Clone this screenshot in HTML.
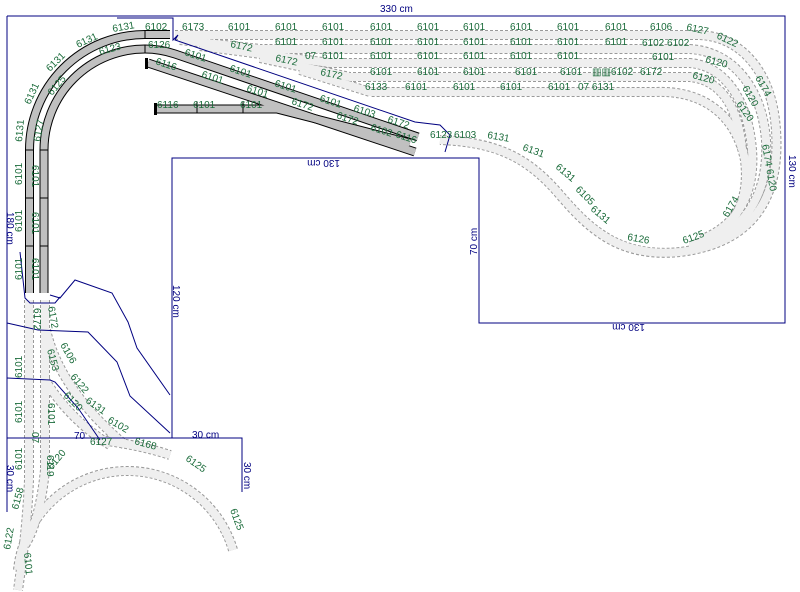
<!DOCTYPE html>
<html><head><meta charset="utf-8"><style>
html,body{margin:0;padding:0;background:#fff;}
svg{display:block;}
text{font-family:"Liberation Sans",sans-serif;font-size:10px;fill:#1a6b3a;}
.dim{fill:#000080;}
.b{fill:none;stroke:#000080;stroke-width:1;}
.te{fill:none;stroke:#9a9a9a;stroke-width:10;stroke-dasharray:3 2;}
.tf{fill:none;stroke:#efefef;stroke-width:8;}
.ge{fill:none;stroke:#000;stroke-width:9;}
.gf{fill:none;stroke:#c0c0c0;stroke-width:7;}
</style></head><body>
<svg width="800" height="592" viewBox="0 0 800 592" xmlns="http://www.w3.org/2000/svg">
<rect width="800" height="592" fill="#fff"/>
<!-- light tracks -->
<g id="light">
<path class="te" d="M175,35 H700 C740,37 772,70 776,130 C780,190 760,242 680,252 C620,258 590,230 560,195 C530,160 500,142 440,140"/>
<path class="te" d="M180,40 L260,49 H690 C735,52 762,90 766,140 C769,190 748,236 690,246"/>
<path class="te" d="M200,46 L330,63 H690 C725,66 748,100 752,150 C755,190 740,225 700,240"/>
<path class="te" d="M260,58 L350,77 H690 C720,80 738,105 742,150"/>
<path class="te" d="M300,70 L370,92 H655 C700,90 735,112 745,160 C750,200 735,235 690,246"/>
<path class="te" d="M29,300 V480 Q27,530 18,590"/>
<path class="te" d="M45,300 V470 Q40,520 25,545"/>
<path class="te" d="M46,330 Q60,390 125,445"/>
<path class="te" d="M45,380 Q70,420 110,445"/>
<path class="te" d="M100,440 Q140,445 170,455"/>
<path class="te" d="M18,570 A110,110 0 0 1 233,550"/>
<path class="tf" d="M175,35 H700 C740,37 772,70 776,130 C780,190 760,242 680,252 C620,258 590,230 560,195 C530,160 500,142 440,140"/>
<path class="tf" d="M180,40 L260,49 H690 C735,52 762,90 766,140 C769,190 748,236 690,246"/>
<path class="tf" d="M200,46 L330,63 H690 C725,66 748,100 752,150 C755,190 740,225 700,240"/>
<path class="tf" d="M260,58 L350,77 H690 C720,80 738,105 742,150"/>
<path class="tf" d="M300,70 L370,92 H655 C700,90 735,112 745,160 C750,200 735,235 690,246"/>
<path class="tf" d="M29,300 V480 Q27,530 18,590"/>
<path class="tf" d="M45,300 V470 Q40,520 25,545"/>
<path class="tf" d="M46,330 Q60,390 125,445"/>
<path class="tf" d="M45,380 Q70,420 110,445"/>
<path class="tf" d="M100,440 Q140,445 170,455"/>
<path class="tf" d="M18,570 A110,110 0 0 1 233,550"/>
</g>
<!-- solid gray tracks -->
<path class="ge" d="M29.5,293 V150 A115.5,115.5 0 0 1 145,34.5 H170"/>
<path class="ge" d="M44,293 V150 A101,101 0 0 1 145,49 Q160,49 175,54 L418,137"/>
<path class="ge" d="M148,63 L415,152"/>
<path class="ge" d="M157,109 H277 L410,143"/>
<path class="gf" d="M29.5,293 V150 A115.5,115.5 0 0 1 145,34.5 H170"/>
<path class="gf" d="M44,293 V150 A101,101 0 0 1 145,49 Q160,49 175,54 L418,137"/>
<path class="gf" d="M148,63 L415,152"/>
<path class="gf" d="M157,109 H277 L410,143"/>
<rect x="154" y="103" width="3" height="12" fill="#000"/>
<rect x="145" y="58" width="3" height="11" fill="#000"/>
<g stroke="#000" stroke-width="1">
<line x1="26" y1="198" x2="33" y2="198"/><line x1="26" y1="246" x2="33" y2="246"/><line x1="26" y1="150" x2="33" y2="150"/>
<line x1="40" y1="198" x2="48" y2="198"/><line x1="40" y1="246" x2="48" y2="246"/><line x1="40" y1="150" x2="48" y2="150"/>
<line x1="145" y1="31" x2="145" y2="38"/><line x1="145" y1="45" x2="145" y2="53"/>
<line x1="197" y1="102" x2="197" y2="113"/><line x1="243" y1="102" x2="243" y2="113"/>
</g>
<!-- blue outlines -->
<g class="b">
<polyline points="7,16 785,16 785,323 479,323 479,158 172,158 172,438 242,438 242,492"/>
<polyline points="7,16 7,512"/>
<polyline points="7,438 172,438"/>
<polyline points="117,18 173,18 173,40 178,35 175,40 415,122 440,125 450,135 445,152"/>
<polyline points="50,295 60,298 75,280 112,293 128,322 137,348 170,395"/>
<polyline points="7,323 38,330 88,332 117,362 130,396 170,433"/>
<polyline points="7,378 50,380 55,382 78,408 100,440"/>
<polyline points="20,252 25,298 30,303 55,303 60,297"/>
</g>
<!-- dimensions -->
<text class="dim" x="380" y="12">330 cm</text>
<text class="dim" transform="translate(789,155) rotate(90)">130 cm</text>
<text class="dim" transform="translate(340,160) rotate(180)">130 cm</text>
<text class="dim" transform="translate(645,324) rotate(180)">130 cm</text>
<text class="dim" transform="translate(477,255) rotate(-90)">70 cm</text>
<text class="dim" transform="translate(173,285) rotate(90)">120 cm</text>
<text class="dim" transform="translate(7,212) rotate(90)">180 cm</text>
<text class="dim" transform="translate(7,465) rotate(90)">30 cm</text>
<text class="dim" transform="translate(244,462) rotate(90)">30 cm</text>
<text class="dim" x="192" y="438">30 cm</text>
<text class="dim" x="74" y="439">70</text>
<!-- labels top rows -->
<g>
<text x="182" y="30">6173</text>
<text x="228" y="30">6101</text><text x="275" y="30">6101</text><text x="322" y="30">6101</text><text x="370" y="30">6101</text><text x="417" y="30">6101</text><text x="463" y="30">6101</text><text x="510" y="30">6101</text><text x="557" y="30">6101</text><text x="605" y="30">6101</text><text x="650" y="30">6106</text>
<text x="686" y="30" transform="rotate(12 686 30)">6127</text><text x="716" y="38" transform="rotate(25 716 38)">6122</text>
<text x="230" y="47" transform="rotate(12 230 47)">6172</text>
<text x="275" y="45">6101</text><text x="322" y="45">6101</text><text x="370" y="45">6101</text><text x="417" y="45">6101</text><text x="463" y="45">6101</text><text x="510" y="45">6101</text><text x="557" y="45">6101</text><text x="605" y="45">6101</text><text x="642" y="46">6102 6102</text>
<text x="275" y="61" transform="rotate(12 275 61)">6172</text><text x="305" y="59">07</text>
<text x="322" y="59">6101</text><text x="370" y="59">6101</text><text x="417" y="59">6101</text><text x="463" y="59">6101</text><text x="510" y="59">6101</text><text x="557" y="59">6101</text><text x="652" y="60">6101</text>
<text x="705" y="62" transform="rotate(15 705 62)">6120</text>
<text x="320" y="75" transform="rotate(12 320 75)">6172</text>
<text x="370" y="75">6101</text><text x="417" y="75">6101</text><text x="463" y="75">6101</text><text x="515" y="75">6101</text><text x="560" y="75">6101</text>
<text x="592" y="75">▥▥6102</text><text x="640" y="75">6172</text>
<text x="692" y="78" transform="rotate(15 692 78)">6120</text>
<text x="365" y="90">6133</text>
<text x="405" y="90">6101</text><text x="453" y="90">6101</text><text x="500" y="90">6101</text><text x="548" y="90">6101</text><text x="578" y="90">07 6131</text>
<text x="755" y="78" transform="rotate(60 755 78)">6174</text>
<text x="742" y="88" transform="rotate(60 742 88)">6120</text>
<text x="736" y="104" transform="rotate(55 736 104)">6120</text>
<text x="762" y="145" transform="rotate(80 762 145)">6174 6120</text>
<text x="728" y="218" transform="rotate(-60 728 218)">6174</text>
<text x="684" y="244" transform="rotate(-20 684 244)">6125</text>
<text x="627" y="240" transform="rotate(10 627 240)">6126</text>
<text x="590" y="210" transform="rotate(40 590 210)">6131</text>
<text x="575" y="190" transform="rotate(45 575 190)">6105</text>
<text x="555" y="168" transform="rotate(40 555 168)">6131</text>
<text x="522" y="150" transform="rotate(20 522 150)">6131</text>
<text x="487" y="138" transform="rotate(10 487 138)">6131</text>
<text x="454" y="138">6103</text>
<text x="430" y="138">6123</text>
</g>
<!-- labels left -->
<g>
<text x="145" y="30">6102</text>
<text x="113" y="32" transform="rotate(-10 113 32)">6131</text>
<text x="78" y="48" transform="rotate(-25 78 48)">6131</text>
<text x="100" y="55" transform="rotate(-15 100 55)">6123</text>
<text x="50" y="72" transform="rotate(-45 50 72)">6131</text>
<text x="52" y="96" transform="rotate(-50 52 96)">6125</text>
<text x="30" y="105" transform="rotate(-65 30 105)">6131</text>
<text x="22" y="142" transform="rotate(-85 22 142)">6131</text>
<text x="40" y="142" transform="rotate(-80 40 142)">6127</text>
<text x="148" y="48">6126</text>
<text x="22" y="185" transform="rotate(-90 22 185)">6101</text>
<text x="22" y="232" transform="rotate(-90 22 232)">6101</text>
<text x="22" y="280" transform="rotate(-90 22 280)">6101</text>
<text x="32" y="165" transform="rotate(90 32 165)">6101</text>
<text x="32" y="212" transform="rotate(90 32 212)">6101</text>
<text x="32" y="258" transform="rotate(90 32 258)">6101</text>
<text x="184" y="55" transform="rotate(18 184 55)">6101</text>
<text x="229" y="71" transform="rotate(18 229 71)">6101</text>
<text x="274" y="86" transform="rotate(18 274 86)">6101</text>
<text x="319" y="101" transform="rotate(18 319 101)">6101</text>
<text x="353" y="111" transform="rotate(18 353 111)">6103</text>
<text x="387" y="122" transform="rotate(18 387 122)">6172</text>
<text x="155" y="64" transform="rotate(18 155 64)">6116</text>
<text x="201" y="77" transform="rotate(18 201 77)">6101</text>
<text x="246" y="91" transform="rotate(18 246 91)">6101</text>
<text x="291" y="104" transform="rotate(18 291 104)">6172</text>
<text x="336" y="118" transform="rotate(18 336 118)">6172</text>
<text x="370" y="130" transform="rotate(18 370 130)">6102</text>
<text x="395" y="137" transform="rotate(18 395 137)">6116</text>
<text x="157" y="108">6116</text><text x="193" y="108">6101</text><text x="240" y="108">6101</text>
</g>
<!-- labels bottom -->
<g>
<text x="22" y="378" transform="rotate(-90 22 378)">6101</text>
<text x="22" y="423" transform="rotate(-90 22 423)">6101</text>
<text x="22" y="470" transform="rotate(-90 22 470)">6101</text>
<text x="34" y="308" transform="rotate(90 34 308)">6172</text>
<text x="48" y="307" transform="rotate(80 48 307)">6172</text>
<text x="47" y="350" transform="rotate(75 47 350)">6153</text>
<text x="48" y="403" transform="rotate(90 48 403)">6101</text>
<text x="32" y="432" transform="rotate(90 32 432)">07</text>
<text x="60" y="345" transform="rotate(60 60 345)">6106</text>
<text x="70" y="377" transform="rotate(50 70 377)">6122</text>
<text x="63" y="396" transform="rotate(45 63 396)">6120</text>
<text x="85" y="402" transform="rotate(35 85 402)">6131</text>
<text x="107" y="422" transform="rotate(30 107 422)">6102</text>
<text x="90" y="445">6127</text>
<text x="134" y="444" transform="rotate(15 134 444)">6168</text>
<text x="185" y="460" transform="rotate(35 185 460)">6125</text>
<text x="230" y="510" transform="rotate(70 230 510)">6125</text>
<text x="47" y="455" transform="rotate(90 47 455)">6119</text>
<text x="52" y="470" transform="rotate(-50 52 470)">6120</text>
<text x="18" y="510" transform="rotate(-75 18 510)">6158</text>
<text x="10" y="550" transform="rotate(-80 10 550)">6122</text>
<text x="24" y="553" transform="rotate(85 24 553)">6101</text>
</g>
</svg>
</body></html>
